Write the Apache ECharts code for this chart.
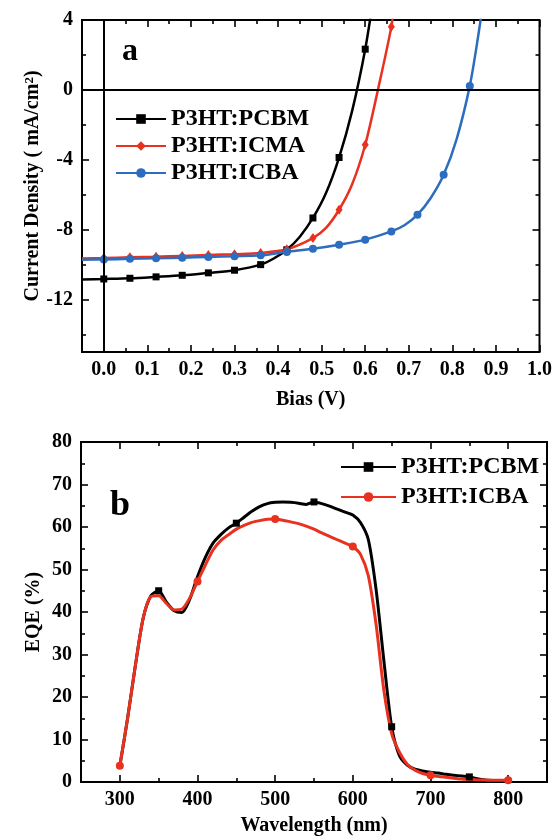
<!DOCTYPE html>
<html lang="en">
<head>
<meta charset="UTF-8">
<title>J-V and EQE</title>
<script src="https://cdn.jsdelivr.net/npm/echarts@6/dist/echarts.min.js"></script>
<style>
  html, body { margin: 0; padding: 0; background: #fff; }
  #main { width: 555px; height: 840px; }
</style>
</head>
<body>
<div id="main"></div>
<script>
  // (a) J-V curves, bias in V, current density in mA/cm2
  var biasPCBM = [-0.05, 0, 0.06, 0.12, 0.18, 0.24, 0.30, 0.36, 0.39, 0.42, 0.45, 0.48, 0.51, 0.54, 0.57, 0.60, 0.62];
  var jPCBM    = [-10.85, -10.82, -10.78, -10.7, -10.61, -10.47, -10.32, -10.0, -9.65, -9.15, -8.4, -7.33, -5.9, -3.87, -1.2, 2.33, 5.5];
  var biasICMA = [-0.05, 0, 0.06, 0.12, 0.18, 0.24, 0.30, 0.36, 0.42, 0.48, 0.51, 0.54, 0.57, 0.60, 0.63, 0.66, 0.67];
  var jICMA    = [-9.65, -9.62, -9.58, -9.55, -9.5, -9.45, -9.4, -9.33, -9.12, -8.48, -7.9, -6.86, -5.4, -3.14, 0.1, 3.62, 5.5];
  var biasICBA = [-0.05, 0, 0.06, 0.12, 0.18, 0.24, 0.30, 0.36, 0.42, 0.48, 0.54, 0.60, 0.66, 0.69, 0.72, 0.75, 0.78, 0.81, 0.84, 0.86, 0.875];
  var jICBA    = [-9.72, -9.7, -9.67, -9.64, -9.6, -9.56, -9.52, -9.47, -9.27, -9.09, -8.86, -8.57, -8.1, -7.75, -7.14, -6.2, -4.86, -2.8, 0.23, 3.2, 5.8];
  var marksPCBM = [0, 0.06, 0.12, 0.18, 0.24, 0.30, 0.36, 0.42, 0.48, 0.54, 0.60];
  var marksICMA = [0, 0.06, 0.12, 0.18, 0.24, 0.30, 0.36, 0.42, 0.48, 0.54, 0.60, 0.66];
  var marksICBA = [0, 0.06, 0.12, 0.18, 0.24, 0.30, 0.36, 0.42, 0.48, 0.54, 0.60, 0.66, 0.72, 0.78, 0.84];

  // (b) EQE spectra
  var wavelength = [300, 310, 320, 330, 340, 350, 360, 370, 380, 390, 400, 410, 420, 430, 440, 450, 460, 470, 480, 490,
                    500, 510, 520, 530, 540, 550, 560, 570, 580, 590, 600, 610, 620, 630, 640, 650, 660, 670, 680, 690,
                    700, 710, 720, 730, 740, 750, 760, 770, 780, 790, 800];
  var eqePCBM = [3.8, 15, 27.4, 38.5, 43.8, 45.0, 42.3, 40.3, 39.9, 43.0, 48.3, 52.8, 56.2, 58.2, 59.8, 60.9, 62.3, 63.7, 64.8, 65.5,
                 65.8, 65.9, 65.8, 65.6, 65.3, 65.9, 65.5, 64.9, 64.2, 63.5, 62.8, 61.0, 57.0, 45.2, 28.5, 13.0, 6.2, 4.0, 3.0, 2.6,
                 2.3, 2.1, 1.8, 1.6, 1.4, 1.2, 0.8, 0.5, 0.35, 0.3, 0.3];
  var eqeICBA = [3.8, 15, 27.4, 38.5, 43.6, 43.8, 42.0, 40.5, 40.7, 43.3, 47.2, 51.0, 54.6, 56.8, 58.2, 59.5, 60.4, 61.1, 61.5, 61.8,
                 61.9, 61.6, 61.2, 60.8, 60.2, 59.5, 58.6, 57.8, 57.0, 56.2, 55.4, 53.5, 48.5, 37.0, 21.5, 11.4, 7.0, 4.2, 2.8, 2.0,
                 1.6, 1.3, 1.1, 0.9, 0.7, 0.6, 0.5, 0.45, 0.4, 0.4, 0.4];
  var marksEqePCBM = [350, 450, 550, 650, 750];
  var marksEqeICBA = [300, 400, 500, 600, 700, 800];

  // ticks and labels
  var biasMajor = [0, 0.1, 0.2, 0.3, 0.4, 0.5, 0.6, 0.7, 0.8, 0.9, 1.0];
  var biasMinor = [-0.05, 0.05, 0.15, 0.25, 0.35, 0.45, 0.55, 0.65, 0.75, 0.85, 0.95];
  var jMajor = [-12, -8, -4, 0, 4];
  var jMinor = [-14, -10, -6, -2, 2];
  var wlMajor = [300, 400, 500, 600, 700, 800];
  var wlMinor = [250, 350, 450, 550, 650, 750, 850];
  var eqeMajor = [0, 10, 20, 30, 40, 50, 60, 70, 80];
  var eqeMinor = [5, 15, 25, 35, 45, 55, 65, 75];

  var FONT = 'Liberation Serif';
  var RED = '#e8311f';
  var BLUE = '#2c6dbf';

  function pts(xs, ys, marks) {
    return xs.map(function (x, i) {
      var item = { value: [x, ys[i]] };
      if (marks.indexOf(x) < 0) item.symbol = 'none';
      return item;
    });
  }

  // four axes per side pair: main (labels + major ticks), minor ticks, mirrored major, mirrored minor
  function axes(dim, grid, min, max, major, minor, fmt, name, nameGap) {
    var pos = dim === 'x' ? ['bottom', 'top'] : ['left', 'right'];
    function one(p, ticks, len, withLabels) {
      return {
        type: 'value', gridIndex: grid, position: p, min: min, max: max,
        splitLine: { show: false },
        axisLine: { show: false, onZero: false },
        axisTick: { show: true, inside: true, length: len, customValues: ticks, lineStyle: { color: '#000', width: 1.6 } },
        axisLabel: withLabels ? {
          show: true, customValues: major, formatter: fmt, margin: dim === 'x' ? 8 : 9,
          fontFamily: FONT, fontWeight: 'bold', fontSize: 20, color: '#000'
        } : { show: false },
        name: withLabels ? name : '',
        nameLocation: 'middle', nameGap: nameGap, nameMoveOverlap: false,
        nameTextStyle: {
          fontFamily: FONT, fontWeight: 'bold', fontSize: 20, color: '#000',
          rich: { sup: { fontFamily: FONT, fontWeight: 'bold', fontSize: 13, color: '#000', verticalAlign: 'top' } }
        }
      };
    }
    return [one(pos[0], major, 7, true), one(pos[0], minor, 4, false), one(pos[1], major, 7, false), one(pos[1], minor, 4, false)];
  }

  var xAxes = axes('x', 0, -0.05, 1.0, biasMajor, biasMinor, function (v) { return v.toFixed(1); }, 'Bias (V)', 38)
    .concat(axes('x', 1, 250, 850, wlMajor, wlMinor, null, 'Wavelength (nm)', 34));
  var yAxes = axes('y', 0, -15, 4, jMajor, jMinor, null, 'Current Density ( mA/cm{sup|2})', 39)
    .concat(axes('y', 1, 0, 80, eqeMajor, eqeMinor, null, 'EQE (%)', 37));

  var myChart = echarts.init(document.getElementById('main'));
  var legendText = { fontFamily: FONT, fontWeight: 'bold', fontSize: 24, color: '#000' };

  var option = {
    animation: false,
    backgroundColor: '#fff',
    grid: [
      { left: 82, top: 20, width: 461, height: 332, show: true, borderColor: '#000', borderWidth: 2, backgroundColor: 'transparent' },
      { left: 81, top: 442, width: 466, height: 340, show: true, borderColor: '#000', borderWidth: 2, backgroundColor: 'transparent' }
    ],
    xAxis: xAxes,
    yAxis: yAxes,
    legend: [
      {
        data: ['a:P3HT:PCBM', 'a:P3HT:ICMA', 'a:P3HT:ICBA'], orient: 'vertical', left: 110, top: 102,
        itemWidth: 50, itemHeight: 12, itemGap: 3, selectedMode: false, textStyle: legendText,
        formatter: function (n) { return n.slice(2); }
      },
      {
        data: ['b:P3HT:PCBM', 'b:P3HT:ICBA'], orient: 'vertical', left: 335, top: 450,
        itemWidth: 55, itemHeight: 12, itemGap: 6, selectedMode: false, textStyle: legendText,
        formatter: function (n) { return n.slice(2); }
      }
    ],
    graphic: [
      { type: 'text', left: 122, top: 36, style: { text: 'a', font: 'bold 32px "Liberation Serif"', fill: '#000' } },
      { type: 'text', left: 110, top: 488, style: { text: 'b', font: 'bold 36px "Liberation Serif"', fill: '#000' } }
    ],
    series: [
      {
        name: 'a:P3HT:PCBM', type: 'line', xAxisIndex: 0, yAxisIndex: 0,
        data: pts(biasPCBM, jPCBM, marksPCBM), smooth: 0.3,
        symbol: 'rect', symbolSize: 7, color: '#000', lineStyle: { width: 2.5, color: '#000' },
        markLine: {
          silent: true, symbol: ['none', 'none'], label: { show: false },
          lineStyle: { color: '#000', width: 2, type: 'solid' },
          data: [{ xAxis: 0 }, { yAxis: 0 }]
        }
      },
      {
        name: 'a:P3HT:ICMA', type: 'line', xAxisIndex: 0, yAxisIndex: 0,
        data: pts(biasICMA, jICMA, marksICMA), smooth: 0.3,
        symbol: 'diamond', symbolSize: [7, 10], color: RED, lineStyle: { width: 2.5, color: RED }
      },
      {
        name: 'a:P3HT:ICBA', type: 'line', xAxisIndex: 0, yAxisIndex: 0,
        data: pts(biasICBA, jICBA, marksICBA), smooth: 0.3,
        symbol: 'circle', symbolSize: 8, color: BLUE, lineStyle: { width: 2.5, color: BLUE }
      },
      {
        name: 'b:P3HT:PCBM', type: 'line', xAxisIndex: 4, yAxisIndex: 4,
        data: pts(wavelength, eqePCBM, marksEqePCBM), smooth: 0.25,
        symbol: 'rect', symbolSize: 7, color: '#000', lineStyle: { width: 3, color: '#000' }
      },
      {
        name: 'b:P3HT:ICBA', type: 'line', xAxisIndex: 4, yAxisIndex: 4,
        data: pts(wavelength, eqeICBA, marksEqeICBA), smooth: 0.25,
        symbol: 'circle', symbolSize: 8, color: RED, lineStyle: { width: 3, color: RED }
      }
    ]
  };
  myChart.setOption(option);
</script>
</body>
</html>
